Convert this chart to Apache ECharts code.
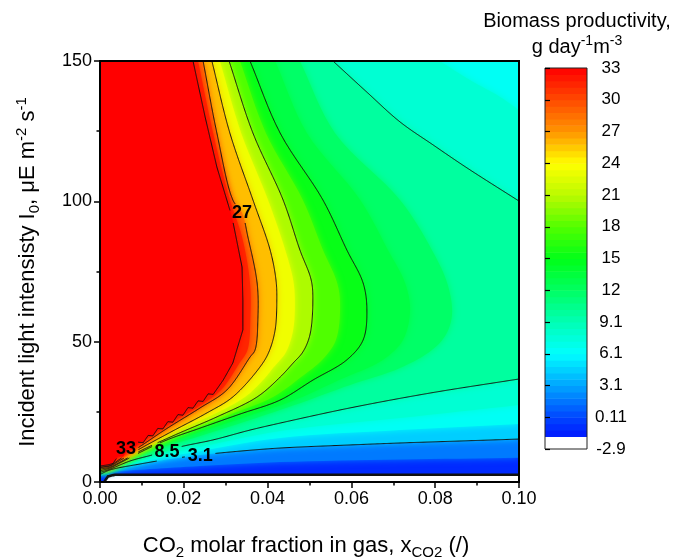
<!DOCTYPE html>
<html><head><meta charset="utf-8">
<script src="https://cdn.jsdelivr.net/npm/echarts@6/dist/echarts.min.js"></script>
<style>html,body{margin:0;padding:0;background:#fff}#c{width:673px;height:559px}</style>
</head><body><div id="c"></div>
<script>
// ---------- tick labels ----------
const xTickLabels = ['0.00','0.02','0.04','0.06','0.08','0.10'];
const yTickLabels = ['0','50','100','150'];
const cbLabels = ['-2.9','0.11','3.1','6.1','9.1','12','15','18','21','24','27','30','33'];
// colour scale: [value, [r,g,b]]
const colorStops = [
  [-1.8,[0,20,255]],[0.11,[0,70,255]],[3.1,[0,165,255]],[6.1,[0,255,255]],
  [9.1,[0,255,180]],[12,[0,255,100]],[15,[0,255,25]],[18,[80,255,0]],
  [21,[185,250,0]],[24,[255,255,0]],[27,[255,150,0]],[30,[255,75,0]],[33,[255,0,0]]
];
const cbMin = -2.9, cbMax = 33, cbWhiteBelow = -1.8, cbSteps = 60;

// ---------- iso-lines: [x_CO2, I0] ----------
const isoM2p3 = [[0.0010,0],[0.0019,2.0],[0.0036,2.6],[0.05,2.6],[0.1,2.6]];
const iso0p4 = [[0,2.0],[0.0024,3.4],[0.0119,4.6],[0.0239,5.7],[0.0430,7.1],[0.0716,8.0],[0.1,8.6]];
const iso3p1 = [[0,2.7],[0.0024,4.3],[0.0095,6.4],[0.0167,8.2],[0.0239,9.6],[0.0334,11.0],[0.0430,12.1],[0.0597,13.2],[0.0716,13.9],[0.0859,14.6],[0.1,15.3]];
const iso5p8 = [[0,3.1],[0.0024,4.4],[0.0119,7.8],[0.0239,11.0],[0.0430,15.7],[0.0716,18.5],[0.1,20.7]];
const iso7p2lo = [[0,3.3],[0.0024,4.5],[0.0119,8.6],[0.0239,12.5],[0.0430,18.2],[0.0716,22.8],[0.1,27.4]];
const iso7p2hi = [[0.0811,150],[0.0883,143.2],[0.0955,137.2],[0.1,132.5]];
const iso8p5lo = [[0,3.4],[0.0024,4.6],[0.0072,7.5],[0.0119,9.4],[0.0160,11.0],[0.0191,12.5],[0.0270,15.0],[0.0358,18.5],[0.0430,21.0],[0.0597,26.4],[0.0788,31.7],[0.1,36.7]];
const iso8p5hi = [[0.0556,150],[0.0637,138.9],[0.0716,128.3],[0.0795,120.1],[0.0876,111.9],[0.1,100.1]];
const iso11p2 = [[0.0477,150],[0.0561,124.3],[0.0716,100.5],[0.0792,82.7],[0.0830,70.2],[0.0840,59.5],[0.0825,52.4],[0.0792,47.0],[0.0716,40.6],[0.0597,34.6],[0.0477,28.1],[0.0358,22.1],[0.0239,16.4],[0.0119,11.0],[0.0048,6.4],[0.0024,4.8],[0,3.8]];
const iso12p55 = [[0.0418,150],[0.0494,124.3],[0.0621,100.5],[0.0687,82.7],[0.0728,70.9],[0.0740,61.3],[0.0723,50.6],[0.0675,43.5],[0.0570,36.3],[0.0465,29.2],[0.0368,24.2],[0.0267,19.2],[0.0184,15.0],[0.0103,10.5],[0.0048,6.6],[0.0024,4.9],[0,3.9]];
const iso13p9 = [[0.0358,150],[0.0430,124.3],[0.0532,100.5],[0.0589,82.7],[0.0628,70.9],[0.0637,61.3],[0.0628,50.6],[0.0589,43.5],[0.0508,36.3],[0.0430,29.2],[0.0334,24.2],[0.0239,19.2],[0.0160,15.0],[0.0095,10.5],[0.0048,6.8],[0.0024,5.0],[0,4.0]];
const iso16p6 = [[0.0334,150],[0.0396,124.3],[0.0484,100.5],[0.0532,82.7],[0.0566,70.9],[0.0573,63.1],[0.0563,50.6],[0.0530,43.5],[0.0480,37.4],[0.0413,30.3],[0.0313,24.2],[0.0227,19.2],[0.0155,15.0],[0.0098,10.7],[0.0048,6.9],[0.0024,5.2],[0,4.3]];
const iso19p3 = [[0.0308,150],[0.0365,124.3],[0.0437,100.5],[0.0477,82.7],[0.0504,72.0],[0.0508,64.8],[0.0501,52.4],[0.0484,46.3],[0.0461,42.4],[0.0430,37.4],[0.0375,30.3],[0.0279,23.2],[0.0184,17.1],[0.0095,11.0],[0.0048,7.1],[0.0024,5.3],[0,4.6]];
const iso22 = [[0.0286,150],[0.0337,124.3],[0.0401,100.5],[0.0442,82.7],[0.0461,72.0],[0.0465,64.8],[0.0461,54.2],[0.0444,46.3],[0.0415,41.0],[0.0389,36.3],[0.0346,30.3],[0.0272,24.2],[0.0181,18.2],[0.0095,11.4],[0.0048,7.5],[0.0024,5.5],[0,4.9]];
const iso24p7 = [[0.0267,150],[0.0310,124.3],[0.0365,100.5],[0.0406,82.7],[0.0420,72.0],[0.0422,64.8],[0.0418,54.2],[0.0403,46.3],[0.0382,41.0],[0.0317,30.3],[0.0255,24.6],[0.0174,18.2],[0.0095,11.8],[0.0048,7.7],[0.0024,5.7],[0,5.1]];
const iso27 = [[0.0246,150],[0.0279,124.3],[0.0317,100.5],[0.0339,95.8],[0.0353,87.3],[0.0375,70.9],[0.0377,58.8],[0.0370,47.0],[0.0358,44.5],[0.0303,32.8],[0.0239,26.4],[0.0160,19.1],[0.0095,12.6],[0.0048,8.2],[0.0024,5.9],[0,5.3]];
const iso30 = [[0.0234,150],[0.0270,124.3],[0.0310,100.5],[0.0339,87.3],[0.0358,70.9],[0.0359,58.8],[0.0352,47.0],[0.0333,42.4],[0.0289,32.8],[0.0230,26.4],[0.0154,19.6],[0.0091,13.2],[0.0043,8.6],[0.0021,6.0],[0,5.6]];
const iso33 = [[0.0222,150],[0.0251,130.0],[0.0279,112.2],[0.0315,94.4],[0.0339,76.6],[0.0341,64.8],[0.0341,54.2],[0.0317,42.4],[0.0294,36.3],
  [0.0270,31.2],[0.0258,31.4],[0.0246,28.7],[0.0234,28.9],[0.0222,26.3],[0.0210,26.5],[0.0198,23.8],[0.0186,24.0],[0.0174,21.3],[0.0162,21.5],
  [0.0150,18.9],[0.0138,19.1],[0.0126,16.4],[0.0115,16.6],[0.0103,14.0],[0.0091,14.2],[0.0079,11.5],[0.0067,11.7],[0.0055,9.0],[0.0043,9.2],
  [0.0031,6.6],[0.0019,6.1],[0,5.7]];

// contour labels
const contourLabels = [
  {text:'33', x:0.0062, y:11.8},
  {text:'8.5', x:0.0160, y:10.7},
  {text:'3.1', x:0.0239, y:9.3},
  {text:'27', x:0.0339, y:95.8}
];

// ---------- helpers ----------
function colorAt(v){
  const s = colorStops;
  const f = c => 'rgb(' + c.map(Math.round).join(',') + ')';
  if (v <= s[0][0]) return f(s[0][1]);
  for (let i = 1; i < s.length; i++) {
    if (v <= s[i][0]) {
      const a = s[i-1], b = s[i], t = (v - a[0]) / (b[0] - a[0]);
      return f(a[1].map((c, k) => c + (b[1][k] - c) * t));
    }
  }
  return f(s[s.length-1][1]);
}
// centripetal Catmull-Rom in pixel space (visual smoothing of a polyline)
function smoothPx(P, steps){
  if (P.length < 3) return P.slice();
  const out = [P[0]];
  const ext = (a, b) => [2*a[0]-b[0], 2*a[1]-b[1]];
  const d = (a, b) => Math.max(1e-6, Math.pow(Math.hypot(b[0]-a[0], b[1]-a[1]), 0.5));
  for (let i = 0; i < P.length - 1; i++) {
    const p0 = i === 0 ? ext(P[0], P[1]) : P[i-1];
    const p1 = P[i], p2 = P[i+1];
    const p3 = i + 2 < P.length ? P[i+2] : ext(P[P.length-1], P[P.length-2]);
    const t0 = 0, t1 = t0 + d(p0,p1), t2 = t1 + d(p1,p2), t3 = t2 + d(p2,p3);
    const L = (a, b, ta, tb, u) => [ (tb-u)/(tb-ta)*a[0] + (u-ta)/(tb-ta)*b[0], (tb-u)/(tb-ta)*a[1] + (u-ta)/(tb-ta)*b[1] ];
    for (let s = 1; s <= steps; s++) {
      const u = t1 + (t2 - t1) * s / steps;
      const A1 = L(p0,p1,t0,t1,u), A2 = L(p1,p2,t1,t2,u), A3 = L(p2,p3,t2,t3,u);
      const B1 = L(A1,A2,t0,t2,u), B2 = L(A2,A3,t1,t3,u);
      out.push(L(B1,B2,t1,t2,u));
    }
  }
  return out;
}
const X0 = 0, X1 = 0.1, Y0 = 0, Y1 = 150;
const TL = [X0, Y1], TR = [X1, Y1], BL = [X0, Y0];
const S = (pts) => ({pts, smooth:true});
const R = (pts) => ({pts, smooth:false});
const fills = [
  {lv:-2.3, blur:0, segs:[R([BL]), R(isoM2p3), R([TR, TL])]},
  {lv:0.4,  segs:[S(iso0p4), R([TR, TL])]},
  {lv:3.1,  segs:[S(iso3p1), R([TR, TL])]},
  {lv:5.8,  segs:[S(iso5p8), R([TR, TL])]},
  {lv:7.2,  segs:[S(iso7p2lo), S(iso7p2hi.slice().reverse()), R([TL])]},
  {lv:8.5,  segs:[S(iso8p5lo), S(iso8p5hi.slice().reverse()), R([TL])]},
  {lv:11.2, segs:[S(iso11p2), R([TL])]},
  {lv:12.55, segs:[S(iso12p55), R([TL])]},
  {lv:13.9, segs:[S(iso13p9), R([TL])]},
  {lv:16.6, segs:[S(iso16p6), R([TL])]},
  {lv:19.3, segs:[S(iso19p3), R([TL])]},
  {lv:22,   segs:[S(iso22), R([TL])]},
  {lv:24.7, segs:[S(iso24p7), R([TL])]},
  {lv:27,   segs:[S(iso27), R([TL])]},
  {lv:30,   segs:[S(iso30), R([TL])]},
  {lv:33,   segs:[R(iso33), R([TL])]}
];
fills.forEach((f, i) => {
  const next = i + 1 < fills.length ? fills[i+1].lv : 34;
  f.color = colorAt((f.lv + next) / 2);
});
const drawnLines = [
  {pts:iso33, w:1, smooth:false}, {pts:iso27, w:1, smooth:true}, {pts:iso24p7, w:1, smooth:true},
  {pts:iso19p3, w:1, smooth:true}, {pts:iso13p9, w:1, smooth:true}, {pts:iso8p5lo, w:1, smooth:true},
  {pts:iso8p5hi, w:1, smooth:true}, {pts:iso3p1, w:1, smooth:true}, {pts:isoM2p3, w:2.6, smooth:false}
];
const FONT = '"Liberation Sans", Arial, Helvetica, sans-serif';
const LBL_SIZE = 18;
function labelWidth(t){ let w = 0; for (const ch of t) w += (ch === '.' ? 0.278 : 0.556) * LBL_SIZE; return w; }

function splitRuns(pts, boxes){
  const runs = []; let cur = [];
  const inside = p => boxes.some(b => p[0] > b[0] && p[0] < b[2] && p[1] > b[1] && p[1] < b[3]);
  for (let i = 0; i < pts.length - 1; i++) {
    const a = pts[i], b = pts[i+1];
    const n = Math.max(1, Math.ceil(Math.hypot(b[0]-a[0], b[1]-a[1])));
    for (let j = (i === 0 ? 0 : 1); j <= n; j++) {
      const t = j / n, p = [a[0] + (b[0]-a[0]) * t, a[1] + (b[1]-a[1]) * t];
      if (inside(p)) { if (cur.length > 1) runs.push(cur); cur = []; }
      else cur.push(p);
    }
  }
  if (cur.length > 1) runs.push(cur);
  return runs;
}

const rich = {
  n:   {fontSize:22, fontFamily:FONT, color:'#000', lineHeight:28},
  sub: {fontSize:15, fontFamily:FONT, color:'#000', lineHeight:15, verticalAlign:'bottom'},
  sup: {fontSize:15, fontFamily:FONT, color:'#000', lineHeight:15, verticalAlign:'top'}
};
const richCb = {
  n:   {fontSize:20, fontFamily:FONT, color:'#000', lineHeight:26},
  sup: {fontSize:14, fontFamily:FONT, color:'#000', lineHeight:14, verticalAlign:'top'}
};

const chart = echarts.init(document.getElementById('c'), null, {renderer:'canvas'});
const option = {
  animation:false,
  backgroundColor:'#fff',
  grid:[
    {left:100, top:61, right:154, bottom:77, show:true, borderColor:'#000', borderWidth:2, backgroundColor:'transparent', z:5},
    {left:545, top:68, width:42, height:381, show:true, borderColor:'#222', borderWidth:1, backgroundColor:'transparent', z:5}
  ],
  xAxis:[
    {gridIndex:0, type:'value', min:X0, max:X1, interval:0.02, z:6,
     axisLine:{show:true, onZero:false, lineStyle:{color:'#000', width:2}},
     axisTick:{show:true, inside:false, length:6, lineStyle:{color:'#000', width:1.5}},
     minorTick:{show:true, splitNumber:2, length:3.5, lineStyle:{color:'#000', width:1.5}},
     splitLine:{show:false},
     axisLabel:{formatter:v => xTickLabels[Math.round(v / 0.02)], fontSize:18, color:'#000', fontFamily:FONT, margin:8}},
    {gridIndex:1, type:'value', min:0, max:1, show:false}
  ],
  yAxis:[
    {gridIndex:0, type:'value', min:Y0, max:Y1, interval:50, z:6,
     axisLine:{show:true, onZero:false, lineStyle:{color:'#000', width:2}},
     axisTick:{show:true, inside:false, length:6, lineStyle:{color:'#000', width:1.5}},
     minorTick:{show:true, splitNumber:2, length:3.5, lineStyle:{color:'#000', width:1.5}},
     splitLine:{show:false},
     axisLabel:{formatter:v => yTickLabels[Math.round(v / 50)], fontSize:18, color:'#000', fontFamily:FONT, margin:8}},
    {gridIndex:1, type:'value', min:0, max:cbLabels.length - 1, interval:1, position:'right', z:6,
     axisLine:{show:false},
     axisTick:{show:true, inside:false, length:5, lineStyle:{color:'#000', width:1.2}},
     splitLine:{show:false},
     axisLabel:{formatter:v => cbLabels[Math.round(v)], fontSize:17, color:'#000', fontFamily:FONT, margin:24, align:'center', showMinLabel:true, showMaxLabel:true}}
  ],
  series:[
    { // filled contour bands
      type:'custom', xAxisIndex:0, yAxisIndex:0, z:1, silent:true, clip:true,
      data:fills.map(() => [X0, Y0]),
      renderItem:(params, api) => {
        const f = fills[params.dataIndex];
        let pts = [];
        f.segs.forEach(sg => {
          const px = sg.pts.map(p => api.coord(p));
          pts = pts.concat(sg.smooth ? smoothPx(px, 8) : px);
        });
        const blur = f.blur === undefined ? 7 : f.blur;
        return {type:'polygon', shape:{points:pts},
          style:{fill:f.color, stroke:null, shadowBlur:blur, shadowColor:f.color}};
      }
    },
    { // contour lines
      type:'custom', xAxisIndex:0, yAxisIndex:0, z:2, silent:true, clip:true,
      data:drawnLines.map(() => [X0, Y0]),
      renderItem:(params, api) => {
        const L = drawnLines[params.dataIndex];
        const boxes = contourLabels.map(l => {
          const c = api.coord([l.x, l.y]), hw = labelWidth(l.text) / 2 + 2;
          return [c[0] - hw, c[1] - 9, c[0] + hw, c[1] + 9];
        });
        let px = L.pts.map(p => api.coord(p));
        if (L.smooth) px = smoothPx(px, 8);
        const runs = splitRuns(px, boxes);
        return {type:'group', children:runs.map(r => ({type:'polyline', shape:{points:r},
          style:{stroke:'#111', lineWidth:L.w, fill:null, lineJoin:'round'}}))};
      }
    },
    { // contour labels
      type:'custom', xAxisIndex:0, yAxisIndex:0, z:3, silent:true, clip:false,
      data:contourLabels.map(l => [l.x, l.y]),
      renderItem:(params, api) => {
        const l = contourLabels[params.dataIndex];
        const c = api.coord([l.x, l.y]);
        return {type:'text', x:c[0], y:c[1], style:{text:l.text, fontSize:LBL_SIZE, fontWeight:'bold',
          fontFamily:FONT, fill:'#000', align:'center', verticalAlign:'middle'}};
      }
    },
    { // colour bar
      type:'custom', xAxisIndex:1, yAxisIndex:1, z:1, silent:true,
      data:Array.from({length:cbSteps}, (_, k) => [0.5, k]),
      renderItem:(params, api) => {
        const k = params.dataIndex, span = cbLabels.length - 1;
        const v = cbMin + (k + 0.5) * (cbMax - cbMin) / cbSteps;
        const p0 = api.coord([0, k * span / cbSteps]);
        const p1 = api.coord([1, (k + 1) * span / cbSteps]);
        return {type:'rect', shape:{x:p0[0], y:p1[1], width:p1[0] - p0[0], height:p0[1] - p1[1] + 0.6},
          style:{fill: v < cbWhiteBelow ? '#fff' : colorAt(v)}};
      }
    }
  ],
  graphic:[
    {type:'text', x:28, y:272, rotation:Math.PI/2, z:10,
     style:{text:'{n|Incident light intensisty I}{sub|0}{n|, μE m}{sup|-2}{n| s}{sup|-1}', rich:rich, align:'center', verticalAlign:'middle'}},
    {type:'text', x:306, y:546, z:10,
     style:{text:'{n|CO}{sub|2}{n| molar fraction in gas, x}{sub|CO2}{n| (/)}', rich:rich, align:'center', verticalAlign:'middle'}},
    {type:'text', x:577, y:21, z:10,
     style:{text:'{n|Biomass productivity,}', rich:richCb, align:'center', verticalAlign:'middle'}},
    {type:'text', x:577, y:47, z:10,
     style:{text:'{n|g day}{sup|-1}{n|m}{sup|-3}', rich:richCb, align:'center', verticalAlign:'middle'}}
  ]
};
chart.setOption(option);
</script>
</body></html>
